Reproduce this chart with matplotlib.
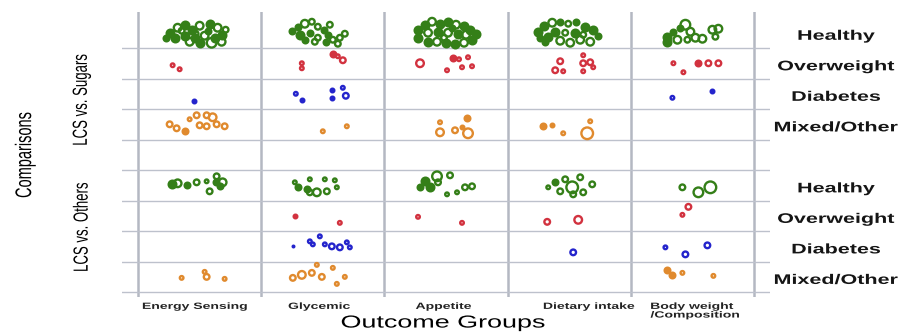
import matplotlib
matplotlib.use('Agg')
import matplotlib.pyplot as plt
from matplotlib.patheffects import AbstractPathEffect
from matplotlib.transforms import Affine2D

plt.rcParams['font.family'] = ['Liberation Sans', 'DejaVu Sans']

outcomes = ['Energy Sensing', 'Glycemic', 'Appetite', 'Dietary intake', 'Body weight\n/Composition']
populations = ['Healthy', 'Overweight', 'Diabetes', 'Mixed/Other']
comparisons = ['LCS vs. Sugars', 'LCS vs. Others']
pop_colors = ['#347f18', '#d2323f', '#2424cc', '#e08a2e']

# one tuple per study: (outcome group, x jitter, y jitter, bubble radius, filled)
# jitter is in pixels inside the cell, radius in pixels
sugars_healthy = [
    (0, -30, 0, 5, 1), (0, -22, -5, 5, 0), (0, -15, -8, 5, 1), (0, -8, -3, 5, 1), (0, 0, -7, 5, 0),
    (0, 10, -9, 5, 1), (0, 18, -5, 5, 0), (0, 22, 2, 5, 1), (0, 15, 5, 5, 1), (0, 5, 3, 5, 0),
    (0, -5, 5, 5, 1), (0, -15, 3, 5, 1), (0, -25, 5, 5, 1), (0, -10, 9, 5, 0), (0, 0, 10, 5, 1),
    (0, 12, 10, 6, 0), (0, 22, 9, 5, 0), (0, -18, -2, 4, 0), (0, 8, -2, 4, 1), (0, -4, 1, 4, 0),
    (0, 26, -3, 4, 0), (0, -34, 5, 4, 1),
    (1, -31, -2, 4, 1), (1, -25, -6, 4, 1), (1, -18, -9, 5, 0), (1, -11, -11, 4, 0), (1, -5, -6, 4, 0),
    (1, 1, -3, 4, 1), (1, -23, 2, 5, 1), (1, -13, 0, 4, 1), (1, -5, 5, 4, 0), (1, 5, 2, 4, 1),
    (1, 10, 7, 4, 0), (1, 17, 5, 4, 0), (1, 22, 1, 4, 0), (1, 3, 9, 4, 1), (1, 15, 11, 4, 0),
    (1, -8, 9, 4, 0), (1, -18, 7, 4, 1), (1, 7, -8, 4, 0),
    (2, -28, -3, 5, 1), (2, -28, 5, 5, 1), (2, -21, -8, 5, 1), (2, -14, -11, 5, 0), (2, -6, -9, 5, 1),
    (2, 2, -11, 5, 1), (2, 10, -8, 5, 0), (2, 18, -7, 5, 1), (2, 24, -3, 5, 1), (2, 30, 1, 5, 1),
    (2, 26, 7, 5, 1), (2, 18, 10, 5, 0), (2, 9, 11, 5, 1), (2, 0, 10, 5, 1), (2, -9, 9, 5, 0),
    (2, -18, 9, 5, 1), (2, -18, 0, 5, 0), (2, -8, -1, 5, 1), (2, 2, 0, 5, 0), (2, 12, 1, 5, 1),
    (2, 20, 2, 5, 0), (2, -2, 5, 4, 0), (2, 6, -5, 4, 1),
    (3, -31, -1, 5, 1), (3, -25, -7, 5, 1), (3, -17, -10, 5, 0), (3, -9, -11, 4, 1), (3, -1, -9, 4, 0),
    (3, 7, -11, 4, 1), (3, 16, -6, 5, 1), (3, 24, -3, 5, 1), (3, 29, 3, 4, 1), (3, 21, 9, 5, 0),
    (3, 11, 7, 5, 0), (3, 1, 10, 5, 0), (3, -9, 8, 5, 0), (3, -21, 4, 5, 1), (3, -14, -1, 5, 1),
    (3, -4, 0, 4, 0), (3, 6, 0, 5, 1), (3, 14, 2, 4, 0), (3, -24, 9, 4, 1), (3, -29, 5, 4, 1),
    (4, -7, -8, 6, 0), (4, -2, -1, 5, 0), (4, -19, -1, 4, 1), (4, -25, 4, 5, 1), (4, -25, 9, 5, 1),
    (4, -15, 7, 5, 0), (4, -5, 7, 4, 0), (4, 3, 5, 5, 0), (4, 10, 6, 5, 0), (4, 20, -3, 5, 0),
    (4, 23, 4, 4, 0), (4, 26, -4, 5, 0), (4, -12, -5, 4, 1),
]
sugars_overweight = [
    (0, -27, 2, 3, 0), (0, -20, 6, 3, 0),
    (1, -21, 0, 3, 0), (1, -21, 5, 3, 0), (1, 10, -9, 4, 1), (1, 20, -3, 4, 0), (1, 15, -7, 3, 0),
    (2, -26, 0, 5, 0), (2, 1, 7, 3, 0), (2, 7, -5, 4, 1), (2, 13, -4, 3, 0), (2, 22, -6, 3, 0),
    (2, 16, 4, 3, 0), (2, 26, 3, 3, 0),
    (3, -14, 7, 4, 0), (3, -6, 8, 3, 0), (3, -9, -2, 4, 0), (3, 14, -8, 3, 0), (3, 14, 0, 4, 0),
    (3, 21, -1, 4, 0), (3, 24, 4, 3, 0), (3, 14, 8, 3, 0),
    (4, -19, 0, 3, 0), (4, -9, 9, 3, 0), (4, 6, 0, 4, 1), (4, 16, 0, 4, 0), (4, 26, 0, 4, 0),
]
sugars_diabetes = [
    (0, -6, 7, 3, 1),
    (1, -27, 0, 3, 0), (1, -21, 6, 3, 1), (1, 9, -4, 3, 1), (1, 20, -6, 3, 0), (1, 9, 4, 3, 1),
    (1, 23, 2, 4, 0),
    (4, -20, 4, 3, 0), (4, 20, -3, 3, 1),
]
sugars_mixed = [
    (0, -30, 0, 4, 0), (0, -23, 4, 4, 0), (0, -15, 7, 4, 1), (0, -10, -5, 3, 0), (0, -3, -9, 4, 0),
    (0, 7, -9, 4, 0), (0, 13, -7, 5, 0), (0, 7, 2, 4, 0), (0, 17, 0, 4, 0), (0, 25, 2, 4, 0),
    (0, 0, 1, 4, 0),
    (1, 0, 7, 3, 0), (1, 24, 2, 3, 0),
    (2, -6, -2, 3, 0), (2, 21, -6, 4, 1), (2, 16, 3, 3, 1), (2, -6, 8, 5, 0), (2, 9, 6, 4, 0),
    (2, 22, 9, 6, 0),
    (3, -26, 2, 4, 1), (3, -17, 1, 3, 1), (3, -6, 9, 3, 0), (3, 21, -3, 3, 0), (3, 18, 9, 7, 0),
]
others_healthy = [
    (0, -28, -1, 5, 1), (0, -22, -2, 5, 0), (0, -13, 0, 4, 1), (0, -3, -3, 4, 0), (0, 7, -4, 3, 0),
    (0, 17, -9, 4, 0), (0, 16, -3, 4, 1), (0, 23, -3, 5, 0), (0, 10, 6, 4, 0), (0, 20, 1, 4, 1),
    (1, -28, -3, 3, 0), (1, -13, -6, 3, 0), (1, 2, -6, 3, 0), (1, 12, -5, 3, 0), (1, -25, 2, 4, 1),
    (1, -16, 4, 4, 1), (1, -6, 7, 5, 0), (1, 4, 6, 4, 0), (1, 14, 2, 3, 0), (1, -13, 7, 4, 0),
    (2, -21, -4, 5, 1), (2, -9, -9, 6, 0), (2, 4, -10, 4, 0), (2, -16, 2, 5, 1), (2, -26, 2, 4, 1),
    (2, 1, 9, 3, 0), (2, 11, 7, 3, 0), (2, 19, 2, 4, 0), (2, 26, 1, 4, 0), (2, -8, -3, 4, 0),
    (3, -21, 2, 3, 0), (3, -14, -3, 4, 1), (3, -4, -6, 4, 0), (3, 11, -8, 4, 0), (3, 3, 2, 7, 0),
    (3, 23, -1, 4, 0), (3, 4, 9, 4, 0), (3, 14, 7, 4, 0), (3, -9, 6, 4, 0),
    (4, -10, 2, 4, 0), (4, 6, 7, 6, 0), (4, 18, 2, 7, 0),
]
others_overweight = [
    (1, -28, 0, 3, 1), (1, 17, 7, 3, 0),
    (2, -28, 1, 3, 0), (2, 16, 7, 3, 0),
    (3, -22, 6, 4, 0), (3, 9, 4, 5, 0),
    (4, -4, -9, 4, 0), (4, -10, -1, 3, 0),
]
others_diabetes = [
    (1, -30, 0, 2, 1), (1, -13, -5, 3, 0), (1, -3, -10, 3, 0), (1, -10, -2, 3, 0), (1, 2, -2, 3, 0),
    (1, 9, 0, 4, 0), (1, 17, 1, 4, 0), (1, 24, -4, 3, 0), (1, 27, 1, 3, 0),
    (3, 4, 6, 4, 0),
    (4, -27, 1, 3, 0), (4, -7, 8, 4, 0), (4, 15, -1, 4, 0),
]
others_mixed = [
    (0, -18, 1, 3, 0), (0, 5, -5, 3, 0), (0, 7, 0, 4, 0), (0, 25, 2, 3, 0),
    (1, -6, -12, 3, 0), (1, 10, -9, 3, 0), (1, -30, 1, 4, 0), (1, -21, -2, 5, 0), (1, -11, -4, 4, 0),
    (1, -1, 0, 4, 0), (1, 22, 0, 3, 0), (1, 14, 7, 3, 0),
    (4, -25, -7, 4, 1), (4, -20, -2, 4, 1), (4, -10, -4, 3, 0), (4, 21, -1, 3, 0),
]

blocks = [
    (0, [sugars_healthy, sugars_overweight, sugars_diabetes, sugars_mixed]),
    (5, [others_healthy, others_overweight, others_diabetes, others_mixed]),
]

CELL_W = 123.2   # pixels per outcome column
CELL_H = 30.5    # pixels per population row
EDGE = 1.7       # ring width in points


class Stretch(AbstractPathEffect):
    # the source picture is squeezed into a wide frame, so its lettering is wide
    def __init__(self, sx=1.55, anchor='center'):
        super().__init__()
        self.sx = sx
        self.anchor = anchor

    def draw_path(self, renderer, gc, tpath, affine, rgbFace=None):
        ext = tpath.get_extents(affine)
        x0 = ext.x0 if self.anchor == 'left' else (ext.x0 + ext.x1) / 2
        t = affine + Affine2D().translate(-x0, 0).scale(self.sx, 1).translate(x0, 0)
        renderer.draw_path(gc, tpath, t, rgbFace)


wide = [Stretch()]

fig = plt.figure(figsize=(9.12, 3.32), dpi=100)
ax = fig.add_axes([0.1338, 0.1054, 0.7105, 0.8585])
ax.set_xlim(-0.63, 4.63)
ax.set_ylim(8.66, -0.68)
ax.axis('off')

for i in range(len(outcomes) + 1):
    ax.axvline(i - 0.5, color='#b4b8c2', lw=1.8, zorder=1)
for j in range(9):
    ax.axhline(j + 0.5, color='#bdc1cc', lw=1.0, zorder=1)

px = 72 / fig.dpi
for start, groups in blocks:
    for k, (pts, color) in enumerate(zip(groups, pop_colors)):
        row = start + k
        # hollow rings first, filled discs on top of them
        for col, dx, dy, r, filled in sorted(pts, key=lambda p: p[4]):
            d = max(2 * (r - EDGE / px / 2) * px, 1.0)
            ax.scatter(col + dx / CELL_W, row + dy / CELL_H, s=d ** 2,
                       facecolors=color if filled else 'none', edgecolors=color,
                       linewidths=EDGE, zorder=3)

# population labels on the right
for start, _ in blocks:
    for k, name in enumerate(populations):
        ax.text(1.102, start + k + 0.1, name, transform=ax.get_yaxis_transform(),
                ha='center', va='center', fontsize=10, fontweight='bold',
                color='#151515', path_effects=wide)

# comparison labels on the left
ax.text(-0.1497, 4.0, 'Comparisons', transform=ax.get_yaxis_transform(),
        rotation=90, ha='center', va='center', fontsize=10.5, path_effects=wide)
ax.text(-0.0617, 2.2, comparisons[0], transform=ax.get_yaxis_transform(),
        rotation=90, ha='center', va='center', fontsize=9.5, path_effects=wide)
ax.text(-0.0617, 6.37, comparisons[1], transform=ax.get_yaxis_transform(),
        rotation=90, ha='center', va='center', fontsize=9.5, path_effects=wide)

# outcome tick labels, a few sit off the column centre in the source
label_shift = [-0.04, -0.03, -0.02, 0.16, -0.34]
for i, name in enumerate(outcomes):
    left = i == len(outcomes) - 1
    ax.text(i + label_shift[i], 8.82, name, ha='left' if left else 'center', va='top',
            fontsize=6.5, fontweight='bold', color='#222222', linespacing=0.95,
            multialignment='left',
            path_effects=[Stretch(anchor='left')] if left else wide)

fig.text(0.486, 0.027, 'Outcome Groups', ha='center', va='center', fontsize=12.5,
         path_effects=wide)

fig.savefig('out.png', dpi=100)
